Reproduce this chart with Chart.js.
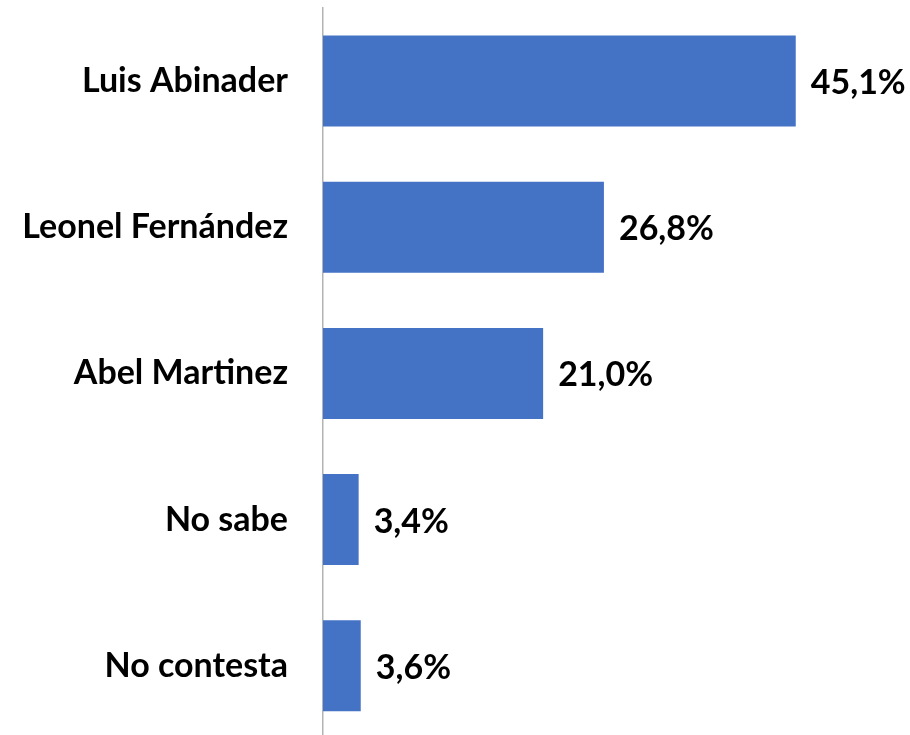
<!DOCTYPE html>
<html>
<head>
<meta charset="utf-8">
<script src="https://cdn.jsdelivr.net/npm/chart.js@4"></script>
<style>
html,body{margin:0;padding:0;background:#fff;overflow:hidden;}
#wrap{width:910px;height:735px;overflow:hidden;}
</style>
</head>
<body>
<div id="wrap"><canvas id="c" width="910" height="739"></canvas></div>
<script>
const categories = ["Luis Abinader", "Leonel Fernández", "Abel Martinez", "No sabe", "No contesta"];
const values = [45.1, 26.8, 21.0, 3.4, 3.6];
const valueLabels = ["45,1%", "26,8%", "21,0%", "3,4%", "3,6%"];

const FONT = "Lato, 'Open Sans', sans-serif";

const valuePlugin = {
  id: 'valueLabels',
  afterDatasetsDraw(chart) {
    const ctx = chart.ctx;
    const meta = chart.getDatasetMeta(0);
    ctx.save();
    ctx.font = "bold 34px " + FONT;
    ctx.fillStyle = "#000";
    ctx.textAlign = "left";
    ctx.textBaseline = "middle";
    meta.data.forEach((el, i) => {
      ctx.fillText(valueLabels[i], el.x + 15, el.y + 2);
    });
    ctx.restore();
  }
};

new Chart(document.getElementById('c'), {
  type: 'bar',
  data: {
    labels: categories,
    datasets: [{
      data: values,
      backgroundColor: '#4472C4',
      borderWidth: 0,
      categoryPercentage: 1,
      barPercentage: 0.623
    }]
  },
  options: {
    indexAxis: 'y',
    responsive: false,
    animation: false,
    layout: { padding: { top: 8, bottom: 0, left: 0, right: 0 } },
    plugins: { legend: { display: false }, tooltip: { enabled: false } },
    scales: {
      x: { display: false, min: 0, max: 56 },
      y: {
        afterFit(scale) { scale.width = 323; },
        grid: { display: true, drawOnChartArea: false, drawTicks: true, tickLength: 35, color: 'rgba(0,0,0,0)' },
        border: { display: true, color: '#b3b3b3', width: 1.5 },
        ticks: {
          padding: 0,
          color: '#000',
          font: { family: FONT, size: 34, weight: 'bold', lineHeight: 0.01 }
        }
      }
    }
  },
  plugins: [valuePlugin]
});
</script>
</body>
</html>
